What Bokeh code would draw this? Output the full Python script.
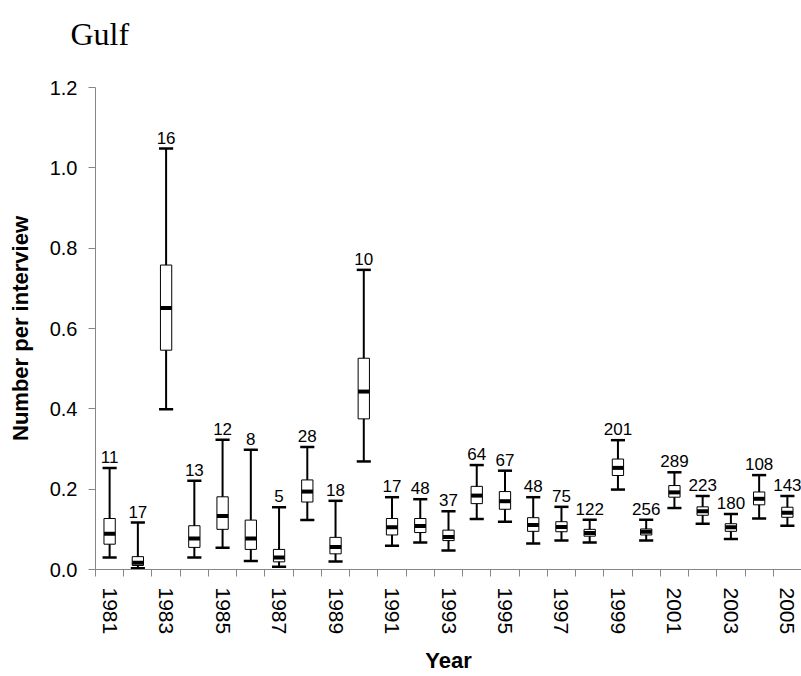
import numpy as np
from bokeh.plotting import figure
from bokeh.layouts import column
from bokeh.models import FixedTicker, NumeralTickFormatter, ColumnDataSource
from bokeh.core.properties import value
from bokeh.embed import file_html
from bokeh.resources import INLINE

years = list(range(1981, 2006))
counts = [11, 17, 16, 13, 12, 8, 5, 28, 18, 10, 17, 48, 37, 64, 67, 48, 75, 122,
          201, 256, 289, 223, 180, 108, 143]
whisker_high = [0.253, 0.117, 1.048, 0.221, 0.323, 0.298, 0.155, 0.305, 0.171, 0.746,
                0.180, 0.175, 0.145, 0.260, 0.246, 0.180, 0.156, 0.124, 0.322, 0.124,
                0.242, 0.183, 0.138, 0.235, 0.183]
q3 = [0.127, 0.032, 0.758, 0.109, 0.181, 0.123, 0.050, 0.223, 0.080, 0.526,
      0.127, 0.127, 0.098, 0.207, 0.194, 0.129, 0.119, 0.100, 0.275, 0.101,
      0.209, 0.156, 0.114, 0.193, 0.155]
median = [0.089, 0.017, 0.651, 0.077, 0.133, 0.077, 0.030, 0.194, 0.056, 0.443,
          0.105, 0.108, 0.081, 0.184, 0.170, 0.111, 0.106, 0.091, 0.253, 0.094,
          0.192, 0.145, 0.105, 0.176, 0.141]
q1 = [0.063, 0.010, 0.546, 0.055, 0.100, 0.050, 0.019, 0.168, 0.039, 0.375,
      0.086, 0.092, 0.072, 0.164, 0.150, 0.095, 0.094, 0.083, 0.234, 0.086,
      0.180, 0.135, 0.095, 0.161, 0.130]
whisker_low = [0.030, 0.003, 0.399, 0.030, 0.054, 0.021, 0.007, 0.123, 0.020, 0.269,
               0.059, 0.067, 0.047, 0.126, 0.119, 0.065, 0.072, 0.067, 0.199, 0.072,
               0.153, 0.114, 0.076, 0.127, 0.109]
y_ticks = [0.0, 0.2, 0.4, 0.6, 0.8, 1.0, 1.2]
title_text = "Gulf"

BOX_W = 0.4
CAP_HALF = 0.25
W = 801
TOP_H = 75
MAIN_H = 601

# ---- title strip (a small figure holding the title text) ----
t = figure(width=W, height=TOP_H, output_backend="svg", toolbar_location=None,
           x_range=(0, W), y_range=(0, TOP_H), x_axis_location=None, y_axis_location=None,
           min_border=0)
t.frame_align = False
t.outline_line_color = None
t.xgrid.grid_line_color = None
t.ygrid.grid_line_color = None
t.text(x=[70], y=[TOP_H - 33], text=[title_text], text_align="left",
       text_baseline="alphabetic", text_font=value("Liberation Serif"),
       text_font_size="32px", text_color="black")

# ---- main chart ----
yrs = np.array(years, dtype=float)
src = ColumnDataSource(dict(
    x=yrs, hi=whisker_high, q3=q3, med=median, q1=q1, lo=whisker_low,
    box_l=yrs - BOX_W / 2, box_r=yrs + BOX_W / 2,
    cap_l=yrs - CAP_HALF, cap_r=yrs + CAP_HALF,
    n=[str(c) for c in counts],
))

p = figure(width=W, height=MAIN_H, output_backend="svg", toolbar_location=None,
           x_range=(1980.5, 2005.5), y_range=(0, 1.2),
           min_border_left=95, min_border_right=0, min_border_top=12,
           min_border_bottom=103)
p.frame_align = False
p.outline_line_color = None
p.xgrid.grid_line_color = None
p.ygrid.grid_line_color = None
p.background_fill_color = "white"

FONT = "Liberation Sans"
AX = "#868686"

# whiskers
p.segment(x0="x", y0="lo", x1="x", y1="hi", source=src, line_color="black", line_width=2)
# caps
p.segment(x0="cap_l", y0="hi", x1="cap_r", y1="hi", source=src, line_color="black", line_width=2.5)
p.segment(x0="cap_l", y0="lo", x1="cap_r", y1="lo", source=src, line_color="black", line_width=2.5)
# boxes
p.vbar(x="x", width=BOX_W, top="q3", bottom="q1", source=src,
       fill_color="white", line_color="black", line_width=1)
# medians
p.segment(x0="box_l", y0="med", x1="box_r", y1="med", source=src, line_color="black", line_width=4)
# counts
p.text(x="x", y="hi", text="n", source=src, text_align="center", text_baseline="bottom",
       y_offset=-5, text_font=value(FONT), text_font_size="17px", text_color="black")

# x axis
xa = p.xaxis[0]
xa.ticker = FixedTicker(ticks=[y for y in years if y % 2 == 1],
                        minor_ticks=[y - 0.5 for y in years] + [years[-1] + 0.5])
xa.major_tick_out = 0
xa.major_tick_in = 0
xa.minor_tick_out = 7
xa.minor_tick_in = 0
xa.minor_tick_line_color = AX
xa.axis_line_color = AX
xa.major_label_orientation = "vertical"
xa.major_label_text_font = FONT
xa.major_label_text_font_size = "21px"
xa.major_label_text_color = "black"
xa.major_label_standoff = 11
xa.axis_label = "Year"
xa.axis_label_text_font = FONT
xa.axis_label_text_font_style = "bold"
xa.axis_label_text_font_size = "22px"
xa.axis_label_text_color = "black"
xa.axis_label_standoff = 11

# y axis
ya = p.yaxis[0]
ya.ticker = FixedTicker(ticks=y_ticks)
ya.formatter = NumeralTickFormatter(format="0.0")
ya.major_tick_out = 7
ya.major_tick_in = 0
ya.minor_tick_out = 0
ya.minor_tick_in = 0
ya.major_tick_line_color = AX
ya.axis_line_color = AX
ya.major_label_text_font = FONT
ya.major_label_text_font_size = "20px"
ya.major_label_text_color = "black"
ya.major_label_standoff = 11
ya.axis_label = "Number per interview"
ya.axis_label_text_font = FONT
ya.axis_label_text_font_style = "bold"
ya.axis_label_text_font_size = "22px"
ya.axis_label_text_color = "black"
ya.axis_label_standoff = 14

layout = column(t, p, spacing=0)
open("out.html", "w").write(file_html(layout, INLINE))
